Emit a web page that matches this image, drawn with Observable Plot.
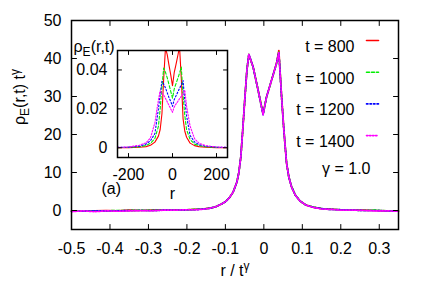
<!DOCTYPE html>
<html><head><meta charset="utf-8">
<script src="https://cdn.jsdelivr.net/npm/d3@7"></script>
<script src="https://cdn.jsdelivr.net/npm/@observablehq/plot@0.6"></script>
<style>
body{margin:0;background:#fff;}
#wrap{position:relative;width:428px;height:300px;}
#wrap svg{position:absolute;left:0;top:0;}
</style></head><body><div id="wrap"></div>
<script>
// ---------- data ----------
const seriesLabels = ["t = 800", "t = 1000", "t = 1200", "t = 1400"];
const seriesColors = ["#ff0000", "#00ee00", "#0000ff", "#ff00ff"];
const seriesDash = [null, "3,2", "1.5,2", "1.5,1.5"];

// main panel: rho_E t^gamma vs r / t^gamma
const mainU = [-0.5,-0.47,-0.44,-0.41,-0.38,-0.35,-0.32,-0.29,-0.26,-0.23,-0.2,-0.18,-0.16,-0.14,-0.125,-0.11,-0.1,-0.09,-0.08,-0.07,-0.065,-0.06,-0.055,-0.049,-0.044,-0.039,-0.028,-0.015,-0.002,0.007,0.02,0.033,0.039,0.046,0.052,0.059,0.065,0.072,0.082,0.094,0.11,0.13,0.15,0.17,0.2,0.23,0.26,0.29,0.32,0.35];
const main800  = [-0.1,-0.2,-0.1,0,-0.1,0.1,0,0.1,0.1,0.2,0.2,0.3,0.4,0.6,1.0,1.7,2.3,3.3,4.8,7.5,10,14,21,30,37,41.0,37.8,31.7,25.5,29.9,34.3,38.8,42.1,30.2,21.2,12.5,8.8,6.2,4.0,2.5,1.4,0.8,0.5,0.4,0.2,0.1,0.1,0,-0.1,-0.1];
const main1000 = [-0.2,-0.1,-0.1,-0.1,0,0,0.1,0,0.1,0.1,0.2,0.3,0.4,0.6,1.0,1.7,2.3,3.3,4.8,7.5,10,14,21,30,37,41.1,37.8,31.7,25.3,29.9,34.3,38.7,41.7,30,21.2,12.5,8.8,6.3,4.1,2.5,1.4,0.9,0.5,0.3,0.2,0.1,0,0.1,-0.1,-0.2];
const main1200 = [-0.2,-0.2,-0.1,-0.1,-0.1,0,0,0,0.1,0.1,0.2,0.2,0.35,0.6,1.0,1.7,2.3,3.3,4.8,7.5,10,14,21,30,37,41.1,37.8,31.7,25.2,29.9,34.3,38.7,41.6,30,21.2,12.5,8.8,6.2,4.0,2.5,1.4,0.8,0.5,0.3,0.2,0.1,0,0,-0.1,-0.2];
const main1400 = [-0.3,-0.1,-0.3,-0.1,-0.2,-0.1,0,-0.1,0.1,0.1,0.2,0.2,0.3,0.6,1.0,1.7,2.3,3.3,4.8,7.5,10,14,21,30,37,41.1,37.8,31.7,25.2,29.9,34.3,38.7,41.6,30,21.2,12.5,8.8,6.2,4.0,2.5,1.4,0.8,0.4,0.3,0.1,0.1,0,-0.1,-0.1,-0.2];

// inset: rho_E(r,t) vs r
const insetR = [-250,-200,-150,-120,-100,-80,-64,-56,-48,-40,-32,-24,-16,-8,0,8,16,24,32,40,48,56,64,80,100,120,150,200,250];
const inset800  = [0,0.0001,0.0003,0.0006,0.0013,0.0029,0.006,0.0094,0.0175,0.0356,0.0513,0.0479,0.0425,0.0375,0.0319,0.0388,0.0429,0.0473,0.0519,0.0356,0.015,0.0085,0.0054,0.0024,0.0011,0.0006,0.0003,0.0001,0];
const inset1000 = [0.0001,0.0002,0.0005,0.0012,0.0023,0.0048,0.011,0.02,0.0315,0.041,0.0388,0.036,0.0325,0.029,0.0255,0.0303,0.033,0.0356,0.0384,0.0415,0.027,0.0165,0.0093,0.0043,0.0019,0.0011,0.0005,0.0002,0.0001];
const inset1200 = [0.0002,0.0003,0.0008,0.0019,0.0036,0.0073,0.02,0.0275,0.0342,0.0327,0.0308,0.0283,0.0258,0.0238,0.0213,0.0248,0.0267,0.0286,0.0306,0.0323,0.0346,0.0242,0.0163,0.0063,0.003,0.0016,0.0008,0.0003,0.0002];
const inset1400 = [0.0002,0.0004,0.0013,0.0026,0.0051,0.0129,0.0246,0.0293,0.0282,0.0271,0.0254,0.0236,0.0218,0.02,0.0182,0.0211,0.0225,0.0238,0.0252,0.0264,0.0279,0.0296,0.0214,0.0111,0.0047,0.0024,0.0011,0.0004,0.0002];

const mainXTicks = [-0.5,-0.4,-0.3,-0.2,-0.1,0,0.1,0.2,0.3];
const mainYTicks = [0,10,20,30,40,50];
const insetXTicks = [-200,0,200];
const insetYTicks = [0,0.02,0.04];
const gammaLabel = "γ = 1.0";
const panelLabel = "(a)";

// ---------- helpers ----------
const FONT = "'Liberation Sans', Arial, Helvetica, sans-serif";
const tickShape = {draw(ctx, l) { ctx.moveTo(0, 0); ctx.lineTo(0, -l); }};
function frameTicks(xt, yt, len) {
  const o = {shape: tickShape, length: len, anchor: "start", stroke: "black", strokeWidth: 1};
  return [
    Plot.vector(xt, {...o, x: d => d, frameAnchor: "bottom", rotate: 0}),
    Plot.vector(xt, {...o, x: d => d, frameAnchor: "top", rotate: 180}),
    Plot.vector(yt, {...o, y: d => d, frameAnchor: "left", rotate: 90}),
    Plot.vector(yt, {...o, y: d => d, frameAnchor: "right", rotate: 270})
  ];
}
function rich(svg, plain, parts, size) {
  d3.select(svg).selectAll("text").filter(function() { return this.textContent === plain; })
    .each(function() {
      const t = d3.select(this); t.text("");
      let shift = 0;
      for (const [s, kind] of parts) {
        const target = kind === "sub" ? 4 : kind === "sup" ? -6 : 0;
        const sp = t.append("tspan").text(s).attr("dy", target - shift);
        if (kind) sp.attr("font-size", size);
        shift = target;
      }
    });
}

const mainSeries = [main800, main1000, main1200, main1400];
const insetSeries = [inset800, inset1000, inset1200, inset1400];

// ---------- main plot ----------
const mainMarks = [];
mainSeries.forEach((vals, i) => {
  const data = mainU.map((u, j) => ({u, v: vals[j]}));
  mainMarks.push(Plot.line(data, {x: "u", y: "v", stroke: seriesColors[i], strokeWidth: 1.7,
    strokeDasharray: seriesDash[i] || undefined}));
});
const main = Plot.plot({
  width: 428, height: 300,
  marginLeft: 71, marginRight: 30, marginTop: 20, marginBottom: 71,
  x: {domain: [-0.5, 0.35]},
  y: {domain: [-5, 50]},
  style: {fontFamily: FONT, fontSize: "16px", background: "transparent", overflow: "visible", color: "black"},
  marks: [
    ...mainMarks,
    Plot.frame({stroke: "black", strokeWidth: 1.5}),
    ...frameTicks(mainXTicks, mainYTicks, 5),
    Plot.axisX(mainXTicks, {tickSize: 0, tickPadding: 13, tickFormat: d => String(d), fontSize: 16, label: null}),
    Plot.axisY(mainYTicks, {tickSize: 0, tickPadding: 10, tickFormat: d => String(d), fontSize: 16, label: null}),
    ...seriesLabels.map((s, i) => Plot.text([s], {frameAnchor: "top-right", dx: -44, dy: 20 + 31.7 * i, textAnchor: "end", fontSize: 16})),
    ...seriesLabels.map((s, i) => Plot.vector([s], {frameAnchor: "top-right", dx: -32, dy: 20 + 31.7 * i, rotate: 90,
      length: 12, anchor: "start", shape: tickShape, stroke: seriesColors[i], strokeWidth: 1.6, strokeDasharray: seriesDash[i] || undefined})),
    Plot.text([gammaLabel], {frameAnchor: "bottom-right", dx: -28, dy: -56, textAnchor: "end", fontSize: 16}),
    Plot.text([panelLabel], {frameAnchor: "bottom-left", dx: 30, dy: -36, fontSize: 16}),
    Plot.text(["r / tγ"], {frameAnchor: "bottom", dy: 46, fontSize: 16}),
    Plot.text(["ρE(r,t) tγ"], {frameAnchor: "left", dx: -52, rotate: -90, fontSize: 16})
  ]
});

// ---------- inset ----------
const insetMarks = [];
insetSeries.forEach((vals, i) => {
  const data = insetR.map((r, j) => ({r, v: vals[j]}));
  insetMarks.push(Plot.line(data, {x: "r", y: "v", stroke: seriesColors[i], strokeWidth: 1.1, clip: true,
    strokeDasharray: seriesDash[i] || undefined}));
});
const inset = Plot.plot({
  width: 428, height: 300,
  marginLeft: 117, marginRight: 201, marginTop: 50, marginBottom: 143,
  x: {domain: [-250, 250]},
  y: {domain: [-0.005, 0.05]},
  style: {fontFamily: FONT, fontSize: "16px", background: "transparent", overflow: "visible", color: "black"},
  marks: [
    ...insetMarks,
    Plot.frame({stroke: "black", strokeWidth: 1.5}),
    ...frameTicks(insetXTicks, insetYTicks, 4),
    Plot.axisX(insetXTicks, {tickSize: 0, tickPadding: 11, tickFormat: d => String(d), fontSize: 16, label: null}),
    Plot.axisY(insetYTicks, {tickSize: 0, tickPadding: 10, tickFormat: d => d === 0 ? "0" : d.toFixed(2), fontSize: 16, label: null}),
    Plot.text(["r"], {frameAnchor: "bottom", dy: 41, fontSize: 16}),
    Plot.text(["ρE(r,t)"], {frameAnchor: "top-left", dx: -44, dy: -10, textAnchor: "start", fontSize: 16})
  ]
});

rich(main, "r / tγ", [["r / t", null], ["γ", "sup"]], 12);
rich(main, "ρE(r,t) tγ", [["ρ", null], ["E", "sub"], ["(r,t) t", null], ["γ", "sup"]], 12);
rich(inset, "ρE(r,t)", [["ρ", null], ["E", "sub"], ["(r,t)", null]], 12);

const wrap = document.getElementById("wrap");
wrap.appendChild(main);
wrap.appendChild(inset);
</script></body></html>
